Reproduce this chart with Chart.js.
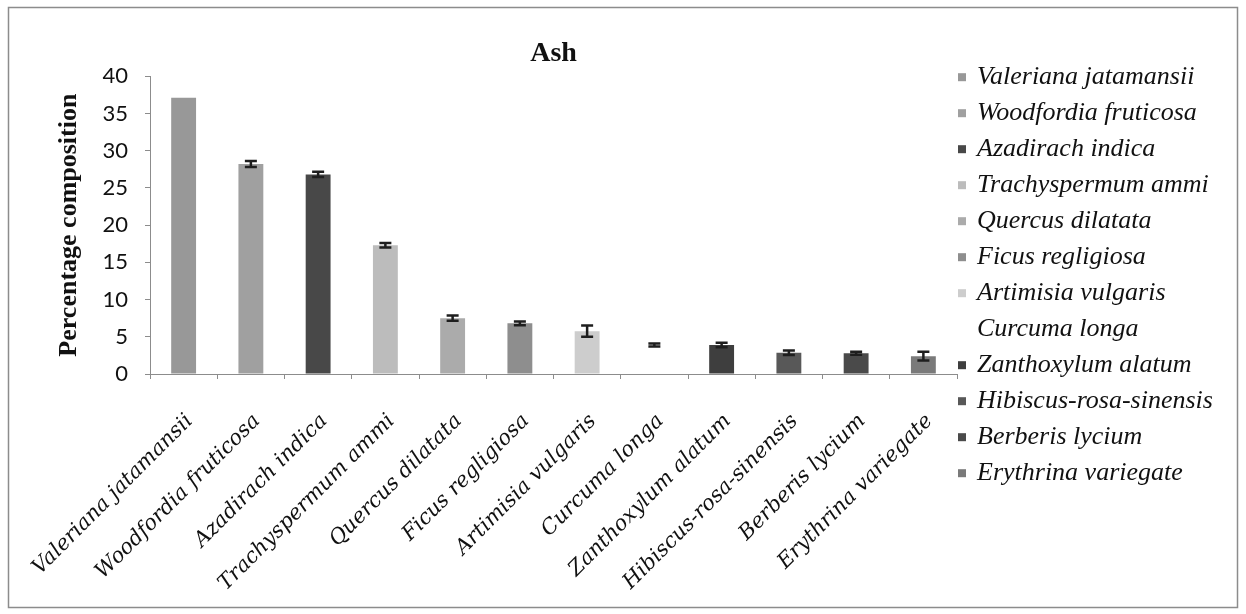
<!DOCTYPE html>
<html>
<head>
<meta charset="utf-8">
<script src="https://cdn.jsdelivr.net/npm/chart.js@4.4.1/dist/chart.umd.min.js"></script>
<style>
  html, body { margin: 0; padding: 0; background: #ffffff; }
  #wrap { width: 1246px; height: 614px; }
</style>
</head>
<body>
<div id="wrap"><canvas id="ashChart" width="1246" height="614"></canvas></div>
<script>
// Plant species analysed
const species = [
  'Valeriana jatamansii', 'Woodfordia fruticosa', 'Azadirach indica', 'Trachyspermum ammi',
  'Quercus dilatata', 'Ficus regligiosa', 'Artimisia vulgaris', 'Curcuma longa',
  'Zanthoxylum alatum', 'Hibiscus-rosa-sinensis', 'Berberis lycium', 'Erythrina variegate'
];
// Ash content (% composition) and its standard error
const ashPercent = [37.1, 28.2, 26.8, 17.3, 7.5, 6.8, 5.75, 3.9, 3.9, 2.85, 2.8, 2.4];
const ashError   = [0, 0.4, 0.35, 0.3, 0.35, 0.25, 0.75, 0.2, 0.3, 0.3, 0.2, 0.6];
// Value axis ticks
const yTicks = [0, 5, 10, 15, 20, 25, 30, 35, 40];
// Bar fill per species
const barColors = [
  '#989898', '#a0a0a0', '#484848', '#bcbcbc', '#ababab', '#8e8e8e',
  '#cdcdcd', '#ffffff', '#3e3e3e', '#585858', '#4a4a4a', '#7a7a7a'
];

const LEGEND_FONT = 'italic 26px "Liberation Serif", "Times New Roman", serif';

// White background and outer frame
const framePlugin = {
  id: 'frame',
  beforeDraw(chart) {
    const ctx = chart.ctx;
    ctx.save();
    ctx.fillStyle = '#ffffff';
    ctx.fillRect(0, 0, chart.width, chart.height);
    ctx.strokeStyle = '#8c8c8c';
    ctx.lineWidth = 1.5;
    ctx.strokeRect(8.5, 7.5, 1229, 600);
    ctx.restore();
  }
};

// Error bars: vertical whisker with caps at value ± error
const errorBarPlugin = {
  id: 'errorBars',
  afterDatasetsDraw(chart) {
    const ctx = chart.ctx;
    const y = chart.scales.y;
    const meta = chart.getDatasetMeta(0);
    ctx.save();
    ctx.strokeStyle = '#1e1e1e';
    ctx.lineWidth = 2.5;
    meta.data.forEach((bar, i) => {
      const e = ashError[i];
      if (!e) return;
      const top = y.getPixelForValue(ashPercent[i] + e);
      const bot = y.getPixelForValue(ashPercent[i] - e);
      const half = 6;
      ctx.beginPath();
      ctx.moveTo(bar.x, top); ctx.lineTo(bar.x, bot);
      ctx.moveTo(bar.x - half, top); ctx.lineTo(bar.x + half, top);
      ctx.moveTo(bar.x - half, bot); ctx.lineTo(bar.x + half, bot);
      ctx.stroke();
    });
    ctx.restore();
  }
};

// Species legend listed beside the plot
const speciesLegendPlugin = {
  id: 'speciesLegend',
  afterDraw(chart) {
    const ctx = chart.ctx;
    const area = chart.chartArea;
    const x0 = area.right + 1;
    ctx.save();
    ctx.font = LEGEND_FONT;
    ctx.textBaseline = 'middle';
    ctx.textAlign = 'left';
    species.forEach((name, i) => {
      const cy = area.top + 1 + i * 36;
      ctx.fillStyle = barColors[i];
      ctx.fillRect(x0, cy - 4, 8, 8);
      ctx.fillStyle = '#111111';
      ctx.fillText(name, x0 + 19, cy);
    });
    ctx.restore();
  }
};

new Chart(document.getElementById('ashChart'), {
  type: 'bar',
  data: {
    labels: species,
    datasets: [{
      label: 'Ash',
      data: ashPercent,
      backgroundColor: barColors,
      borderWidth: 0,
      categoryPercentage: 1,
      barPercentage: 0.37
    }]
  },
  options: {
    responsive: false,
    animation: false,
    devicePixelRatio: 1,
    layout: { padding: { top: 30, left: 45, right: 289, bottom: 6 } },
    plugins: {
      legend: { display: false },
      tooltip: { enabled: false },
      title: {
        display: true,
        text: 'Ash',
        fullSize: false,
        color: '#111111',
        font: { family: '"Liberation Serif", "Times New Roman", serif', size: 28, weight: 'bold' },
        padding: { top: 7, bottom: 5.6 }
      }
    },
    scales: {
      x: {
        grid: { display: true, drawOnChartArea: false, drawTicks: true, tickLength: 5, color: '#8c8c8c', offset: true },
        border: { display: true, color: '#8c8c8c', width: 1 },
        ticks: {
          color: '#111111',
          minRotation: 45,
          maxRotation: 45,
          autoSkip: false,
          padding: 30,
          labelOffset: 6,
          font: { family: '"DejaVu Serif", serif', size: 21, style: 'italic' }
        },
        afterFit(scale) {
          scale.height = 234;
          scale.paddingLeft = 0;
          scale.paddingRight = 0;
        }
      },
      y: {
        min: 0,
        max: 40,
        afterBuildTicks(scale) { scale.ticks = yTicks.map(v => ({ value: v })); },
        grid: { display: true, drawOnChartArea: false, drawTicks: true, tickLength: 5, color: '#8c8c8c' },
        border: { display: true, color: '#8c8c8c', width: 1 },
        ticks: {
          color: '#111111',
          padding: 17,
          font: { family: 'Lato, "Liberation Sans", sans-serif', size: 22 }
        },
        title: {
          display: true,
          text: 'Percentage composition',
          color: '#111111',
          font: { family: '"Liberation Serif", "Times New Roman", serif', size: 26, weight: 'bold' },
          padding: { top: 9, bottom: 0 }
        },
        afterFit(scale) { scale.width = 105; }
      }
    }
  },
  plugins: [framePlugin, errorBarPlugin, speciesLegendPlugin]
});
</script>
</body>
</html>
